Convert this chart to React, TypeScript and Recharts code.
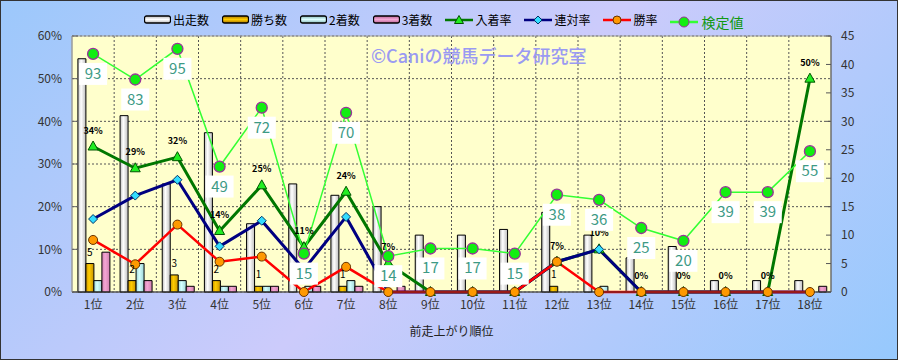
import React from 'react';
import {
  ComposedChart,
  Bar,
  Line,
  XAxis,
  YAxis,
  CartesianGrid,
  LabelList,
  ReferenceArea,
} from 'recharts';

// 前走上がり順位ごとの成績
const positions = ['1位', '2位', '3位', '4位', '5位', '6位', '7位', '8位', '9位', '10位', '11位', '12位', '13位', '14位', '15位', '16位', '17位', '18位'];
const starts = [41, 31, 19, 28, 12, 19, 17, 15, 10, 10, 11, 14, 10, 6, 8, 2, 2, 2];
const wins = [5, 2, 3, 2, 1, 0, 1, 0, 0, 0, 0, 1, 0, 0, 0, 0, 0, 0];
const seconds = [2, 5, 2, 1, 1, 1, 2, 0, 0, 0, 0, 0, 1, 0, 0, 0, 0, 0];
const thirds = [7, 2, 1, 1, 1, 1, 1, 1, 0, 0, 0, 0, 0, 0, 0, 0, 0, 1];
const placeRate = [34.1, 29.0, 31.6, 14.3, 25.0, 10.5, 23.5, 6.7, 0, 0, 0, 7.1, 10.0, 0, 0, 0, 0, 50.0];
const quinellaRate = [17.1, 22.6, 26.3, 10.7, 16.7, 5.3, 17.6, 0, 0, 0, 0, 7.1, 10.0, 0, 0, 0, 0, 0];
const winRate = [12.2, 6.5, 15.8, 7.1, 8.3, 0, 5.9, 0, 0, 0, 0, 7.1, 0, 0, 0, 0, 0, 0];
const testValue = [93, 83, 95, 49, 72, 15, 70, 14, 17, 17, 15, 38, 36, 25, 20, 39, 39, 55];

const pctTicks = [0, 10, 20, 30, 40, 50, 60];
const countTicks = [0, 5, 10, 15, 20, 25, 30, 35, 40, 45];

const data = positions.map((pos, i) => ({
  pos,
  starts: starts[i],
  wins: wins[i],
  seconds: seconds[i],
  thirds: thirds[i],
  placeRate: placeRate[i],
  quinellaRate: quinellaRate[i],
  winRate: winRate[i],
  testValue: testValue[i],
}));

const FONT = '"Noto Sans CJK JP", "Noto Sans", sans-serif';

// markers
const TriangleDot = (props: any) => {
  const { cx, cy } = props;
  if (cx == null || cy == null) return null;
  return (
    <path
      key={props.key}
      d={`M${cx},${cy - 5.5} L${cx + 5},${cy + 3.5} L${cx - 5},${cy + 3.5} Z`}
      fill="#22ee22"
      stroke="#005500"
      strokeWidth={1}
    />
  );
};

const DiamondDot = (props: any) => {
  const { cx, cy } = props;
  if (cx == null || cy == null) return null;
  return (
    <path
      key={props.key}
      d={`M${cx},${cy - 4.5} L${cx + 4.5},${cy} L${cx},${cy + 4.5} L${cx - 4.5},${cy} Z`}
      fill="#33ddff"
      stroke="#003366"
      strokeWidth={1}
    />
  );
};

const OrangeDot = (props: any) => {
  const { cx, cy } = props;
  if (cx == null || cy == null) return null;
  return <circle key={props.key} cx={cx} cy={cy} r={4.5} fill="#ff9900" stroke="#663300" strokeWidth={1} />;
};

const GreenDot = (props: any) => {
  const { cx, cy } = props;
  if (cx == null || cy == null) return null;
  return <circle key={props.key} cx={cx} cy={cy} r={5.5} fill="#11ee11" stroke="#993399" strokeWidth={1.3} />;
};

// labels
const WinsLabel = (props: any) => {
  const { x, y, width, value } = props;
  if (!value) return null;
  return (
    <text x={x + width / 2} y={y - 8} textAnchor="middle" fontSize={10} fontFamily={FONT} fill="#000">
      {value}
    </text>
  );
};

const PlaceLabel = (props: any) => {
  const { x, y, value } = props;
  return (
    <text x={x} y={y - 13} textAnchor="middle" fontSize={9} fontWeight="bold" fontFamily={FONT} fill="#000">
      {Math.round(value)}%
    </text>
  );
};

const TestLabel = (props: any) => {
  const { x, y, value } = props;
  return (
    <g>
      <rect x={x - 14} y={y + 9} width={28} height={22} fill="#ffffff" />
      <text x={x} y={y + 25} textAnchor="middle" fontSize={15} fontFamily={FONT} fill="#3d9a85">
        {value}
      </text>
    </g>
  );
};

const BarIcon = ({ id }: { id: string }) => (
  <svg width={27} height={9}>
    <rect x={0.5} y={1} width={26} height={7} rx={2} fill={`url(#${id})`} stroke="#000" strokeWidth={1.3} />
  </svg>
);

const LineIcon = ({ color, dot }: { color: string; dot: React.ReactNode }) => (
  <svg width={28} height={12}>
    <line x1={0} y1={6} x2={28} y2={6} stroke={color} strokeWidth={2.5} />
    {dot}
  </svg>
);

const legendItems = [
  { label: '出走数', icon: <BarIcon id="lgStarts" /> },
  { label: '勝ち数', icon: <BarIcon id="lgWins" /> },
  { label: '2着数', icon: <BarIcon id="lgSeconds" /> },
  { label: '3着数', icon: <BarIcon id="lgThirds" /> },
  { label: '入着率', icon: <LineIcon color="#007700" dot={<path d="M14,1.5 L18.5,9.5 L9.5,9.5 Z" fill="#22ee22" stroke="#005500" />} /> },
  { label: '連対率', icon: <LineIcon color="#000080" dot={<path d="M14,2 L18,6 L14,10 L10,6 Z" fill="#33ddff" stroke="#003366" />} /> },
  { label: '勝率', icon: <LineIcon color="#ff0000" dot={<circle cx={14} cy={6} r={4} fill="#ff9900" stroke="#663300" />} /> },
];

const Grad = ({ id, edge, mid }: { id: string; edge: string; mid: string }) => (
  <linearGradient id={id} x1="0" y1="0" x2="1" y2="0">
    <stop offset="0%" stopColor={edge} />
    <stop offset="40%" stopColor={mid} />
    <stop offset="100%" stopColor={edge} />
  </linearGradient>
);

export default function App() {
  return (
    <div
      style={{
        position: 'absolute',
        left: 0,
        top: 0,
        width: 898,
        height: 360,
        background: 'linear-gradient(135deg, #9cc8fb 0%, #cccbfb 50%, #96c9fd 100%)',
        boxShadow: 'inset 0 0 0 1px #333',
        fontFamily: FONT,
      }}
    >
      {/* gradient defs shared by legend icons */}
      <svg width={0} height={0} style={{ position: 'absolute' }}>
        <defs>
          <linearGradient id="lgStarts" x1="0" y1="0" x2="0" y2="1">
            <stop offset="0%" stopColor="#bbbbbb" />
            <stop offset="50%" stopColor="#ffffff" />
            <stop offset="100%" stopColor="#bbbbbb" />
          </linearGradient>
          <linearGradient id="lgWins" x1="0" y1="0" x2="0" y2="1">
            <stop offset="0%" stopColor="#aa7700" />
            <stop offset="50%" stopColor="#ffcc00" />
            <stop offset="100%" stopColor="#aa7700" />
          </linearGradient>
          <linearGradient id="lgSeconds" x1="0" y1="0" x2="0" y2="1">
            <stop offset="0%" stopColor="#88bbbb" />
            <stop offset="50%" stopColor="#ddffff" />
            <stop offset="100%" stopColor="#88bbbb" />
          </linearGradient>
          <linearGradient id="lgThirds" x1="0" y1="0" x2="0" y2="1">
            <stop offset="0%" stopColor="#bb6699" />
            <stop offset="50%" stopColor="#f4a8d4" />
            <stop offset="100%" stopColor="#bb6699" />
          </linearGradient>
        </defs>
      </svg>

      {/* legend */}
      <div
        style={{
          position: 'absolute',
          left: 144,
          top: 7,
          display: 'flex',
          alignItems: 'center',
          gap: 13,
          fontSize: 12,
          color: '#000',
          whiteSpace: 'nowrap',
        }}
      >
        {legendItems.map((it) => (
          <div key={it.label} style={{ display: 'flex', alignItems: 'center', gap: 2 }}>
            {it.icon}
            <span>{it.label}</span>
          </div>
        ))}
        <div style={{ display: 'flex', alignItems: 'center', gap: 3, marginTop: 5 }}>
          <LineIcon color="#33ff33" dot={<circle cx={14} cy={6} r={5} fill="#11ee11" stroke="#993399" />} />
          <span style={{ fontSize: 14, color: '#119911' }}>検定値</span>
        </div>
      </div>

      <ComposedChart
        width={898}
        height={360}
        data={data}
        margin={{ top: 36, right: 0, bottom: 0, left: 0 }}
        barCategoryGap="14%"
        barGap={0}
      >
        <defs>
          <Grad id="gStarts" edge="#bdbdbd" mid="#ffffff" />
          <Grad id="gWins" edge="#c89400" mid="#ffcc00" />
          <Grad id="gSeconds" edge="#9fd6d6" mid="#d4ffff" />
          <Grad id="gThirds" edge="#d27fb0" mid="#f4a6d4" />
        </defs>
        <CartesianGrid
          yAxisId="left"
          fill="#ffffcc"
          stroke="#555"
          strokeDasharray="2 2"
          verticalCoordinatesGenerator={({ offset }: any) =>
            positions.slice(1).map((_, i) => offset.left + ((i + 1) * offset.width) / positions.length)
          }
        />
        <ReferenceArea yAxisId="left" y1={0} y2={60} fill="none" stroke="#a0a0a0" strokeWidth={1} />
        <XAxis
          dataKey="pos"
          height={68}
          tickLine={false}
          tickSize={0}
          tickMargin={8}
          axisLine={{ stroke: '#333' }}
          tick={{ fontSize: 12, fill: '#333', fontFamily: FONT }}
          interval={0}
          label={{ value: '前走上がり順位', position: 'insideBottom', offset: 24, fontSize: 12, fill: '#222', fontFamily: FONT }}
        />
        <YAxis
          yAxisId="left"
          width={72}
          domain={[0, 60]}
          ticks={pctTicks}
          tickFormatter={(v) => `${v}%`}
          tickSize={-6}
          tickMargin={16}
          axisLine={{ stroke: '#999' }}
          tickLine={{ stroke: '#666' }}
          tick={{ fontSize: 12, fill: '#333', fontFamily: FONT }}
        />
        <YAxis
          yAxisId="right"
          orientation="right"
          width={67}
          domain={[0, 45]}
          ticks={countTicks}
          tickSize={-5}
          tickMargin={15}
          axisLine={{ stroke: '#555' }}
          tickLine={{ stroke: '#555' }}
          tick={{ fontSize: 12, fill: '#333', fontFamily: FONT, textAnchor: 'start' }}
        />
        <YAxis yAxisId="test" domain={[0, 100]} hide />

        <Bar yAxisId="right" dataKey="starts" fill="url(#gStarts)" stroke="#000" strokeWidth={1} isAnimationActive={false} />
        <Bar yAxisId="right" dataKey="wins" fill="url(#gWins)" stroke="#000" strokeWidth={1} isAnimationActive={false}>
          <LabelList dataKey="wins" content={WinsLabel} />
        </Bar>
        <Bar yAxisId="right" dataKey="seconds" fill="url(#gSeconds)" stroke="#000" strokeWidth={1} isAnimationActive={false} />
        <Bar yAxisId="right" dataKey="thirds" fill="url(#gThirds)" stroke="#000" strokeWidth={1} isAnimationActive={false} />

        <Line
          yAxisId="left"
          type="linear"
          dataKey="placeRate"
          stroke="#007700"
          strokeWidth={3}
          dot={TriangleDot}
          activeDot={false}
          isAnimationActive={false}
        >
          <LabelList dataKey="placeRate" content={PlaceLabel} />
        </Line>
        <Line
          yAxisId="left"
          type="linear"
          dataKey="quinellaRate"
          stroke="#000080"
          strokeWidth={3}
          dot={DiamondDot}
          activeDot={false}
          isAnimationActive={false}
        />
        <Line
          yAxisId="left"
          type="linear"
          dataKey="winRate"
          stroke="#ff0000"
          strokeWidth={2.5}
          dot={OrangeDot}
          activeDot={false}
          isAnimationActive={false}
        />
        <Line
          yAxisId="test"
          type="linear"
          dataKey="testValue"
          stroke="#33ff33"
          strokeWidth={1.5}
          dot={GreenDot}
          activeDot={false}
          isAnimationActive={false}
        >
          <LabelList dataKey="testValue" content={TestLabel} />
        </Line>
      </ComposedChart>

      {/* watermark */}
      <div
        style={{
          position: 'absolute',
          left: 371,
          top: 43,
          fontSize: 18,
          fontWeight: 500,
          color: '#9a9af2',
          whiteSpace: 'nowrap',
          pointerEvents: 'none',
          lineHeight: '24px',
        }}
      >
        ©Caniの競馬データ研究室
      </div>
    </div>
  );
}
